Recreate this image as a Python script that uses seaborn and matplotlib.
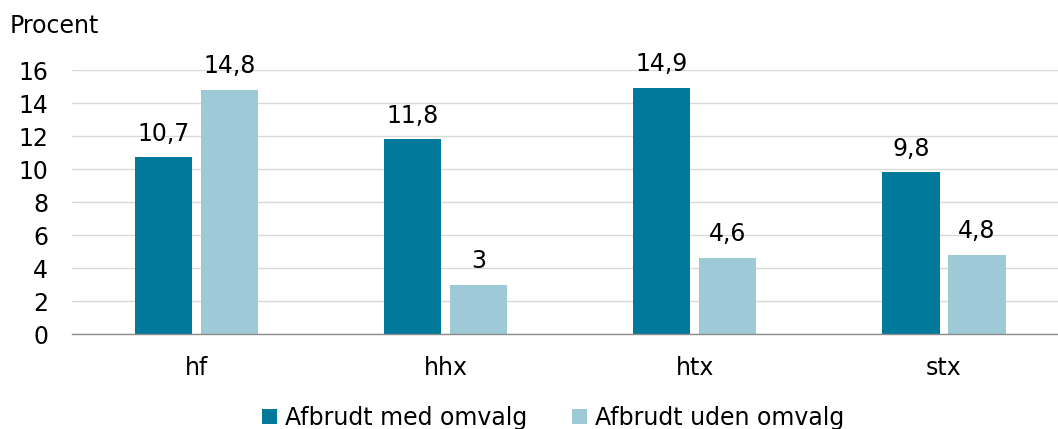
import matplotlib
matplotlib.use("Agg")
import matplotlib.pyplot as plt
import seaborn as sns
import pandas as pd

categories = ["hf", "hhx", "htx", "stx"]
series_names = ["Afbrudt med omvalg", "Afbrudt uden omvalg"]
med_omvalg = [10.7, 11.8, 14.9, 9.8]
uden_omvalg = [14.8, 3.0, 4.6, 4.8]
yticks = [0, 2, 4, 6, 8, 10, 12, 14, 16]
colors = ["#00799A", "#9DCAD6"]

df = pd.DataFrame({
    "kategori": categories * 2,
    "serie": [series_names[0]] * 4 + [series_names[1]] * 4,
    "værdi": med_omvalg + uden_omvalg,
})

sns.set_theme(style="white")
plt.rcParams["font.family"] = ["DejaVu Sans"]
FS = 17

fig = plt.figure(figsize=(10.58, 4.29), dpi=100)
ax = fig.add_axes([0.068, 0.2214, 0.942, 0.6154])

sns.barplot(data=df, x="kategori", y="værdi", hue="serie", order=categories,
            hue_order=series_names, palette=colors, width=0.53, gap=0.136,
            saturation=1, linewidth=0, ax=ax, legend=True)

ax.set_ylim(0, 16)
ax.set_xlim(-0.5, 3.5)
ax.set_yticks(yticks)
ax.set_yticklabels([str(t) for t in yticks], fontsize=FS, color="#000000")
ax.tick_params(axis="y", length=0, pad=17)
ax.tick_params(axis="x", length=0, pad=16, labelsize=FS, labelcolor="#000000")
ax.yaxis.grid(True, color="#D9D9D9", linewidth=1)
ax.set_axisbelow(True)
ax.set_xlabel("")
ax.set_ylabel("")
for s in ["top", "right", "left"]:
    ax.spines[s].set_visible(False)
ax.spines["bottom"].set_color("#8C8C8C")
ax.spines["bottom"].set_linewidth(1)

for cont in ax.containers:
    for bar in cont:
        v = bar.get_height()
        lbl = f"{v:g}".replace(".", ",")
        ax.annotate(lbl, (bar.get_x() + bar.get_width() / 2, v),
                    xytext=(0, 12), textcoords="offset points",
                    ha="center", va="baseline", fontsize=FS,
                    color="#000000", annotation_clip=False)

fig.text(0.0095, 0.94, "Procent", fontsize=FS, ha="left", va="center", color="#000000")

handles, labels = ax.get_legend_handles_labels()
ax.get_legend().remove()
fig.legend(handles, labels, loc="center", bbox_to_anchor=(0.523, 0.026),
           ncol=2, frameon=False, fontsize=FS, handlelength=0.62,
           handleheight=0.62, handletextpad=0.35, columnspacing=1.9,
           labelcolor="#000000")

fig.savefig("out.png", dpi=100)
